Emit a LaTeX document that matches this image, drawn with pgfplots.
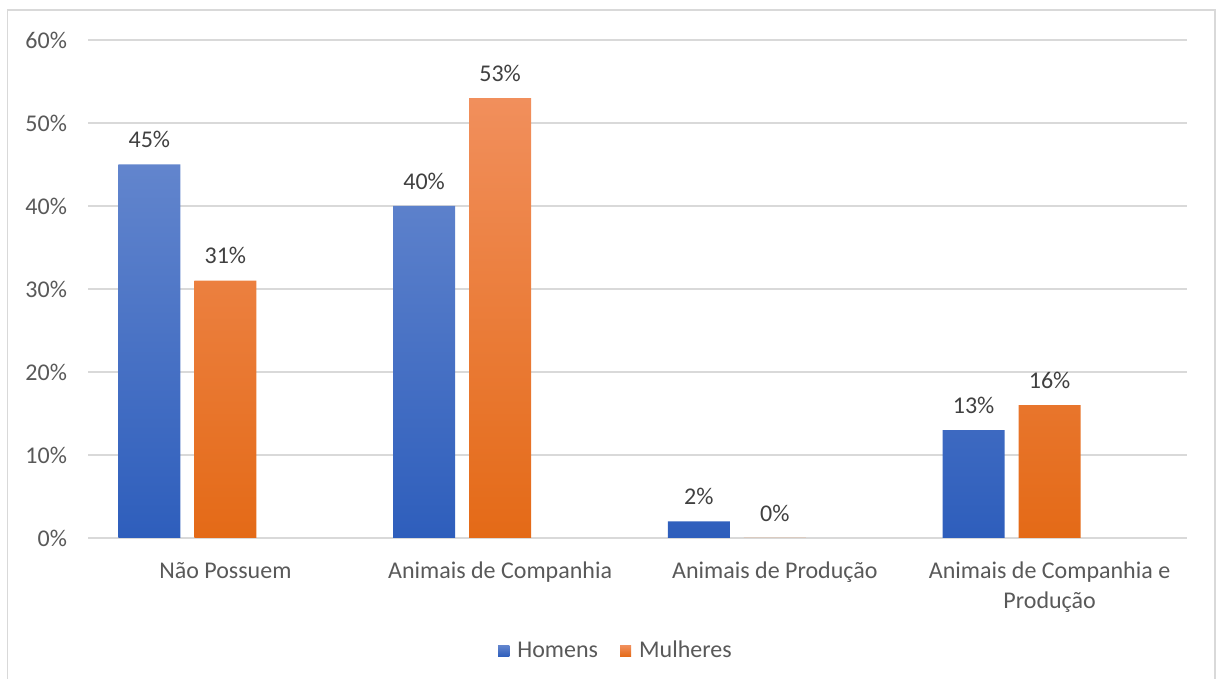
\documentclass[border=0pt]{standalone}
\usepackage{pgfplots}
\pgfplotsset{compat=1.18}
\usepackage{fontspec}
\setmainfont{Carlito}

\definecolor{gridgray}{HTML}{D9D9D9}
\definecolor{labelgray}{HTML}{595959}
\definecolor{valuegray}{HTML}{404040}
\definecolor{blueTop}{HTML}{6285CD}
\definecolor{blueBot}{HTML}{2E5EBC}
\definecolor{orangeTop}{HTML}{F18F5C}
\definecolor{orangeBot}{HTML}{E46A17}

\begin{document}
\begin{tikzpicture}
\useasboundingbox (0,0) rectangle (608pt,339.5pt);
% chart frame
\draw[gridgray, line width=0.75pt] (3.75pt,-1pt) -- (3.75pt,334.5pt) -- (607.5pt,334.5pt) -- (607.5pt,-1pt);
\begin{axis}[
  at={(44pt,70.5pt)}, anchor=south west,
  scale only axis, width=549.5pt, height=249pt,
  xmin=-0.5, xmax=3.5, ymin=0, ymax=60,
  /pgf/number format/assume math mode=true,
  axis x line*=bottom, axis y line*=left,
  x axis line style={draw=gridgray, line width=0.75pt, -},
  y axis line style={draw=none},
  ymajorgrids, grid style={draw=gridgray, line width=0.75pt},
  major tick length=0pt,
  ytick={0,10,...,60},
  yticklabel={\pgfmathprintnumber{\tick}\%},
  yticklabel style={font=\fontsize{12}{14}\selectfont, text=labelgray, xshift=-7pt},
  xtick={0,1,2,3},
  xticklabels={Não Possuem, Animais de Companhia, Animais de Produção, {Animais de Companhia e\\Produção}},
  xticklabel style={font=\fontsize{12}{15}\selectfont, text=labelgray, align=center, yshift=-8.5pt},
  ybar, bar width=0.2257,
  nodes near coords={\pgfmathprintnumber{\pgfplotspointmeta}\%},
  every node near coord/.append style={font=\fontsize{12}{14}\selectfont, text=valuegray, anchor=center, yshift=12.5pt},
  legend style={draw=none, at={(0.4813,-0.2269)}, anchor=center, legend columns=2,
    font=\fontsize{12}{14}\selectfont, text=labelgray,
    /tikz/every even column/.append style={column sep=9pt}},
  legend image code/.code={\fill[#1] (0pt,-2.8pt) rectangle (5.6pt,2.8pt);},
]
\addplot[draw=none, bar shift=-0.2766, top color=blueTop, bottom color=blueBot]
  coordinates {(0,45) (1,40) (2,2) (3,13)};
\addplot[draw=none, bar shift=0, top color=orangeTop, bottom color=orangeBot]
  coordinates {(0,31) (1,53) (2,0) (3,16)};
\legend{\hspace{2pt}Homens, \hspace{2pt}Mulheres}
\end{axis}
\end{tikzpicture}
\end{document}
